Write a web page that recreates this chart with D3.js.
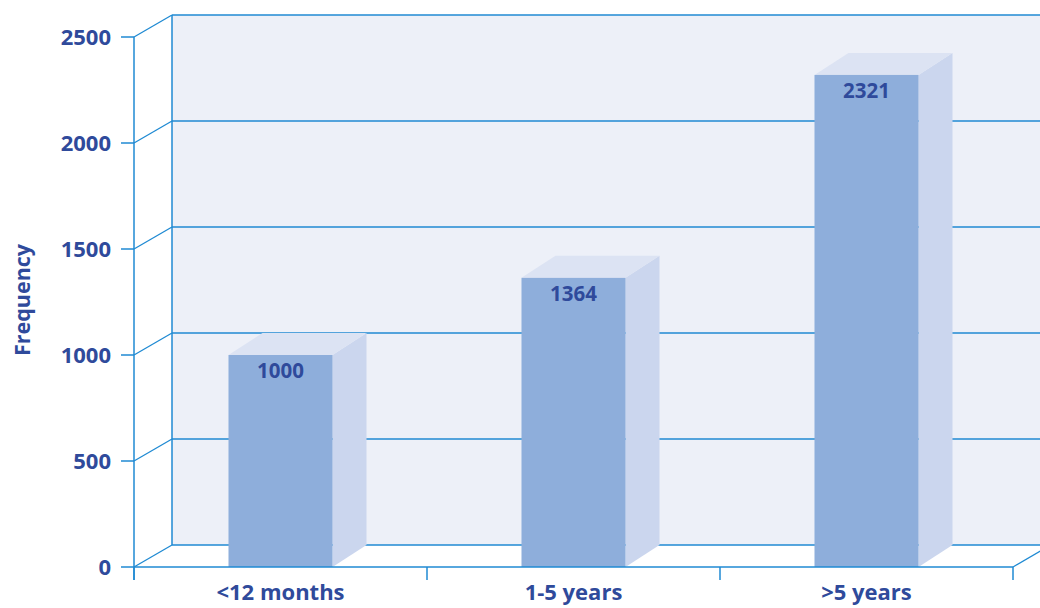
<!DOCTYPE html>
<html><head><meta charset="utf-8">
<script src="https://cdn.jsdelivr.net/npm/d3@7"></script>
<style>body{margin:0;background:#fff}svg{display:block}text{font-family:"Open Sans",sans-serif;font-weight:700;fill:#2f4a9b}</style>
</head><body><svg id="c" width="1040" height="608"></svg>
<script>
const categories = ["<12 months", "1-5 years", ">5 years"];
const values = [1000, 1364, 2321];
const yTicks = [0, 500, 1000, 1500, 2000, 2500];
const yLabel = "Frequency";

const svg = d3.select("#c");
const line = "#1f8ad3";
const y = d3.scaleLinear().domain([0, 2500]).range([567, 37]);
const x = d3.scaleBand().domain(categories).range([134, 1013]).padding(0);
const dx = 38, dy = -22;      // back wall depth offset
const bdx = 34, bdy = -22;    // bar depth
const barW = x.bandwidth() * 0.355;

// back wall
const x0 = 134 + dx, x1 = 1013 + dx;
svg.append("rect").attr("x", x0).attr("y", y(2500) + dy).attr("width", x1 - x0).attr("height", y(0) - y(2500)).attr("fill", "#edf0f8");

// gridlines on back wall + diagonals on left wall
yTicks.forEach(t => {
  svg.append("line").attr("x1", x0).attr("x2", x1).attr("y1", y(t) + dy).attr("y2", y(t) + dy)
    .attr("stroke", line).attr("stroke-width", 1.5);
  svg.append("line").attr("x1", 134).attr("x2", x0).attr("y1", y(t)).attr("y2", y(t) + dy)
    .attr("stroke", line).attr("stroke-width", 1.3);
});
svg.append("line").attr("x1", x0).attr("x2", x0).attr("y1", y(2500) + dy).attr("y2", y(0) + dy).attr("stroke", line).attr("stroke-width", 1.5);
// floor right diagonal
svg.append("line").attr("x1", 1013).attr("x2", x1).attr("y1", y(0)).attr("y2", y(0) + dy).attr("stroke", line).attr("stroke-width", 1.3);

// bars
const g = svg.append("g");
categories.forEach((c, i) => {
  const cx = x(c) + x.bandwidth() / 2;
  const l = cx - barW / 2, r = cx + barW / 2;
  const top = y(values[i]), bot = y(0);
  g.append("polygon").attr("points", [[r, top], [r + bdx, top + bdy], [r + bdx, bot + bdy], [r, bot]].join(" ")).attr("fill", "#cbd6ee");
  g.append("polygon").attr("points", [[l, top], [l + bdx, top + bdy], [r + bdx, top + bdy], [r, top]].join(" ")).attr("fill", "#dce3f3");
  g.append("rect").attr("x", l).attr("y", top).attr("width", barW).attr("height", bot - top).attr("fill", "#8eaedb");
  g.append("text").attr("x", cx).attr("y", top + 23).attr("text-anchor", "middle").attr("font-size", 20.5).text(values[i]);
});

// front axes
const ax = svg.append("g");
ax.append("line").attr("x1", 134).attr("x2", 134).attr("y1", y(2500)).attr("y2", 580).attr("stroke", line).attr("stroke-width", 1.5);
ax.append("line").attr("x1", 134).attr("x2", 1013).attr("y1", y(0)).attr("y2", y(0)).attr("stroke", line).attr("stroke-width", 1.5);
yTicks.forEach(t => {
  ax.append("line").attr("x1", 121).attr("x2", 134).attr("y1", y(t)).attr("y2", y(t)).attr("stroke", line).attr("stroke-width", 1.5);
  ax.append("text").attr("x", 111).attr("y", y(t) + 8).attr("text-anchor", "end").attr("font-size", 22).text(t);
});
const xt = [134, ...categories.map(c => x(c) + x.bandwidth())];
xt.forEach(v => ax.append("line").attr("x1", v).attr("x2", v).attr("y1", y(0)).attr("y2", 580).attr("stroke", line).attr("stroke-width", 1.5));
categories.forEach(c => ax.append("text").attr("x", x(c) + x.bandwidth() / 2).attr("y", 600).attr("text-anchor", "middle").attr("font-size", 22).text(c));

svg.append("text").attr("transform", "translate(30,300) rotate(-90)").attr("text-anchor", "middle").attr("font-size", 21.5).text(yLabel);
</script></body></html>
